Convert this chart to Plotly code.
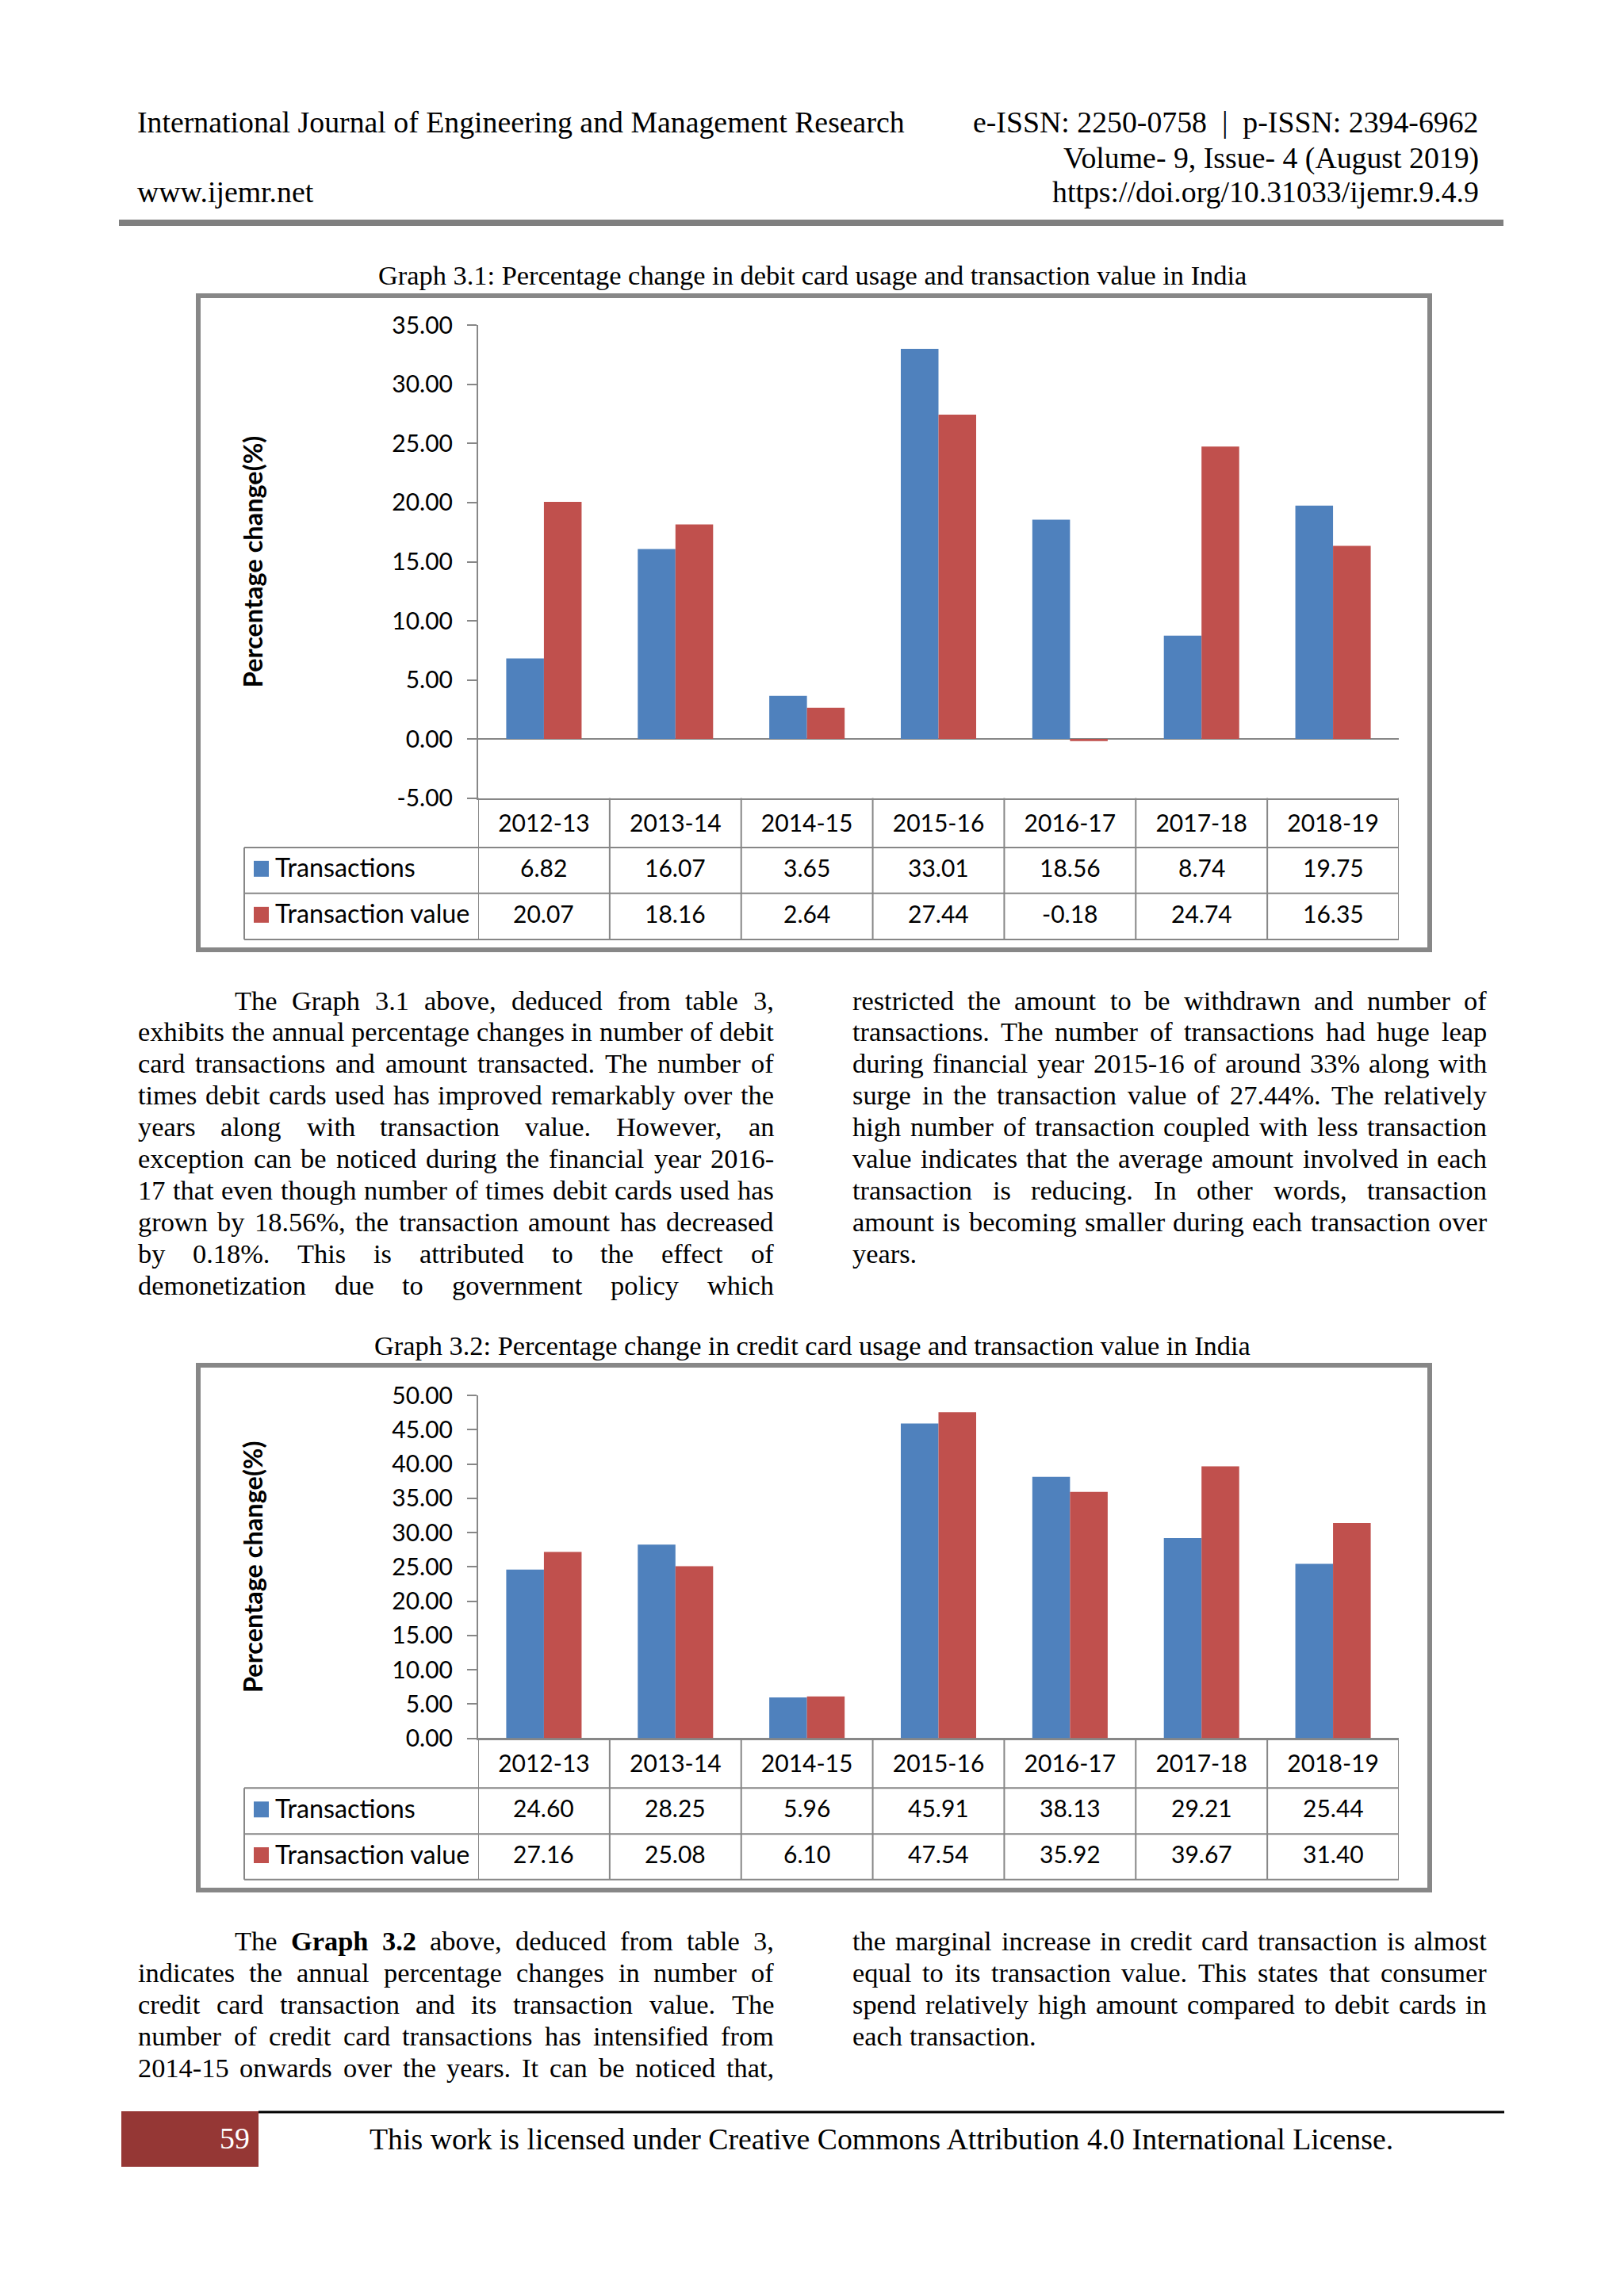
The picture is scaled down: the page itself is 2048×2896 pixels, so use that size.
import plotly.graph_objects as go

W, H = 2048, 2896
OFF = 8  # default page margin of the html body

# ---------------- data ----------------
categories = ["2012-13", "2013-14", "2014-15", "2015-16", "2016-17", "2017-18", "2018-19"]
debit_transactions = [6.82, 16.07, 3.65, 33.01, 18.56, 8.74, 19.75]
debit_value = [20.07, 18.16, 2.64, 27.44, -0.18, 24.74, 16.35]
credit_transactions = [24.60, 28.25, 5.96, 45.91, 38.13, 29.21, 25.44]
credit_value = [27.16, 25.08, 6.10, 47.54, 35.92, 39.67, 31.40]
series_names = ["Transactions", "Transaction value"]
y1_tick_values = [-5, 0, 5, 10, 15, 20, 25, 30, 35]
y2_tick_values = [0, 5, 10, 15, 20, 25, 30, 35, 40, 45, 50]
y_title = "Percentage change(%)"

header_left = ["International Journal of Engineering and Management Research", "www.ijemr.net"]
header_right = ["e-ISSN: 2250-0758 \u00a0|\u00a0 p-ISSN: 2394-6962", "Volume- 9, Issue- 4 (August 2019)",
                "https://doi.org/10.31033/ijemr.9.4.9"]
graph_titles = ["Graph 3.1: Percentage change in debit card usage and transaction value in India",
                "Graph 3.2: Percentage change in credit card usage and transaction value in India"]
para1_left = [
    "The Graph 3.1 above, deduced from table 3,",
    "exhibits the annual percentage changes in number of debit",
    "card transactions and amount transacted. The number of",
    "times debit cards used has improved remarkably over the",
    "years along with transaction value. However, an",
    "exception can be noticed during the financial year 2016-",
    "17 that even though number of times debit cards used has",
    "grown by 18.56%, the transaction amount has decreased",
    "by 0.18%. This is attributed to the effect of",
    "demonetization due to government policy which",
]
para1_right = [
    "restricted the amount to be withdrawn and number of",
    "transactions. The number of transactions had huge leap",
    "during financial year 2015-16 of around 33% along with",
    "surge in the transaction value of 27.44%. The relatively",
    "high number of transaction coupled with less transaction",
    "value indicates that the average amount involved in each",
    "transaction is reducing. In other words, transaction",
    "amount is becoming smaller during each transaction over",
    "years.",
]
para2_left = [
    "The §Graph §3.2 above, deduced from table 3,",
    "indicates the annual percentage changes in number of",
    "credit card transaction and its transaction value. The",
    "number of credit card transactions has intensified from",
    "2014-15 onwards over the years. It can be noticed that,",
]
para2_right = [
    "the marginal increase in credit card transaction is almost",
    "equal to its transaction value. This states that consumer",
    "spend relatively high amount compared to debit cards in",
    "each transaction.",
]
page_number = "59"
footer_text = "This work is licensed under Creative Commons Attribution 4.0 International License."

# ---------------- styles ----------------
BLUE, RED = "#4F81BD", "#C0504D"
series_colors = [BLUE, RED]
GRID = "#878787"
SANS = "Lato"
SERIF = "Liberation Serif"
FW, FH = W - 2 * OFF, H - 2 * OFF


def xp(px):
    return (px - OFF) / FW


def yp(py):
    return 1 - (py - OFF) / FH


# Times metrics (1/1000 em) for justification
_TR = {}
for chars, widths in [
    (" !\"#$%&'()*+,-./", [250, 333, 408, 500, 500, 833, 778, 180, 333, 333, 500, 564, 250, 333, 250, 278]),
    ("0123456789:;<=>?@", [500] * 10 + [278, 278, 564, 564, 564, 444, 921]),
    ("ABCDEFGHIJKLMNOPQRSTUVWXYZ", [722, 667, 667, 722, 611, 556, 722, 722, 333, 389, 722, 611, 889, 722, 722,
                                    556, 722, 667, 556, 611, 722, 722, 944, 722, 722, 611]),
    ("abcdefghijklmnopqrstuvwxyz", [444, 500, 444, 500, 444, 333, 500, 500, 278, 278, 500, 278, 778, 500, 500,
                                    500, 500, 333, 389, 278, 500, 500, 722, 500, 500, 444]),
]:
    _TR.update(dict(zip(chars, widths)))
_TB = dict(_TR)
_TB.update({"G": 778, "r": 444, "a": 500, "p": 556, "h": 556})


def tw(word, size, bold=False):
    t = _TB if bold else _TR
    return sum(t.get(c, 500) for c in word) * size / 1000.0


annotations = []
shapes = []


def body_line(line, x_left, x_right, y_mid, size, justify):
    words = []
    for w in line.split(" "):
        bold = w.startswith("§")
        words.append((w.lstrip("§"), bold))
    widths = [tw(w, size, b) for w, b in words]
    if justify and len(words) > 1:
        gap = (x_right - x_left - sum(widths)) / (len(words) - 1)
    else:
        gap = 250 * size / 1000.0
    x = x_left
    for (w, b), wd in zip(words, widths):
        annotations.append(dict(
            x=xp(x), y=yp(y_mid), xref="paper", yref="paper", xanchor="left", yanchor="middle",
            text=f"<b>{w}</b>" if b else w, showarrow=False, borderpad=0,
            font=dict(family=SERIF, size=size, color="black")))
        x += wd + gap


def paragraph(lines, x_left, x_right, y0, dy, size, indent=0, last_ragged=False):
    for i, ln in enumerate(lines):
        left = x_left + (indent if i == 0 else 0)
        justify = not (last_ragged and i == len(lines) - 1)
        body_line(ln, left, x_right, y0 + dy * i, size, justify)


def text(t, x, y, size, anchor="left", color="black", family=SERIF):
    annotations.append(dict(x=xp(x), y=yp(y), xref="paper", yref="paper", xanchor=anchor,
                            yanchor="middle", text=t, showarrow=False, borderpad=0,
                            font=dict(family=family, size=size, color=color)))


# ---------------- header ----------------
HSZ = 37.8
text(header_left[0], 172, 154, HSZ)
text(header_left[1], 172, 242, HSZ)
for t, y in zip(header_right, [154, 199, 242]):
    text(t, 1866, y, HSZ, anchor="right")
shapes.append(dict(type="rect", xref="paper", yref="paper", x0=xp(150), x1=xp(1896), y0=yp(277), y1=yp(285),
                   fillcolor="#7F7F7F", line=dict(width=0)))

# ---------------- charts ----------------
PLOT_L, PLOT_R, TABLE_L = 603, 1764, 308
charts = [
    dict(xa="x", ya="y", vals=(debit_transactions, debit_value), ticks=y1_tick_values, yr=[-5, 35],
         top=410.4, bottom=1006.6, rows=[1069.0, 1126.7, 1185.0], frame=(250, 373, 1803, 1198), title_y=347),
    dict(xa="x2", ya="y2", vals=(credit_transactions, credit_value), ticks=y2_tick_values, yr=[0, 50],
         top=1760.0, bottom=2192.6, rows=[2255.3, 2313.3, 2370.7], frame=(250, 1722, 1803, 2384), title_y=1697),
]

fig = go.Figure()
layout_axes = {}
for ci, c in enumerate(charts):
    for k in range(2):
        fig.add_trace(go.Bar(x=categories, y=c["vals"][k], name=series_names[k], xaxis=c["xa"], yaxis=c["ya"],
                             marker=dict(color=series_colors[k], line=dict(width=0)), offsetgroup=str(k),
                             showlegend=False, hoverinfo="skip"))
    sfx = "" if ci == 0 else str(ci + 1)
    layout_axes["xaxis" + sfx] = dict(
        domain=[xp(PLOT_L), xp(PLOT_R)], anchor=c["ya"], type="category", range=[-0.5, 6.5],
        showline=True, linecolor=GRID, linewidth=2, ticks="", showgrid=False, zeroline=False,
        tickfont=dict(family=SANS, size=30, color="black"), ticklabelstandoff=4, automargin=False,
        fixedrange=True)
    layout_axes["yaxis" + sfx] = dict(
        domain=[yp(c["bottom"]), yp(c["top"])], anchor=c["xa"], range=c["yr"],
        tickvals=c["ticks"], ticktext=[f"{v:.2f}" for v in c["ticks"]],
        ticks="outside", ticklen=12, tickwidth=2, tickcolor=GRID, showline=True, linecolor=GRID, linewidth=2,
        showgrid=False, zeroline=True, zerolinecolor=GRID, zerolinewidth=2,
        tickfont=dict(family=SANS, size=30, color="black"), ticklabelstandoff=12, automargin=False,
        fixedrange=True,
        title=dict(text=y_title, font=dict(family=SANS, size=32.5, color="black", weight="bold"), standoff=153))

    # title
    text(graph_titles[ci], 1024, c["title_y"], 34.4, anchor="center")
    # frame
    fx0, fy0, fx1, fy1 = c["frame"]
    shapes.append(dict(type="rect", xref="paper", yref="paper", x0=xp(fx0), x1=xp(fx1), y0=yp(fy0), y1=yp(fy1),
                       line=dict(color=GRID, width=6), fillcolor="rgba(0,0,0,0)"))
    # data table grid
    hb, r1, r2 = c["rows"]
    for yy in (hb, r1, r2):
        shapes.append(dict(type="line", xref="paper", yref="paper", x0=xp(TABLE_L), x1=xp(PLOT_R),
                           y0=yp(yy), y1=yp(yy), line=dict(color=GRID, width=2)))
    shapes.append(dict(type="line", xref="paper", yref="paper", x0=xp(TABLE_L), x1=xp(TABLE_L),
                       y0=yp(hb), y1=yp(r2), line=dict(color=GRID, width=2)))
    for i in range(len(categories) + 1):
        shapes.append(dict(type="line", xref=c["xa"], yref="paper", x0=i - 0.5, x1=i - 0.5,
                           y0=yp(c["bottom"]), y1=yp(r2), line=dict(color=GRID, width=2)))
    row_centers = [(hb + r1) / 2, (r1 + r2) / 2]
    for k in range(2):
        rc = row_centers[k]
        shapes.append(dict(type="rect", xref="paper", yref="paper", x0=xp(320), x1=xp(339),
                           y0=yp(rc - 12), y1=yp(rc + 8), fillcolor=series_colors[k], line=dict(width=0)))
        text(series_names[k], 346, rc - 4, 32.3, family=SANS)
        for i, v in enumerate(c["vals"][k]):
            annotations.append(dict(x=categories[i], y=yp(rc - 4), xref=c["xa"], yref="paper", xanchor="center",
                                    yanchor="middle", text=f"{v:.2f}", showarrow=False, borderpad=0,
                                    font=dict(family=SANS, size=30, color="black")))

# ---------------- body text ----------------
BSZ = 34.4
paragraph(para1_left, 173, 975, 1261.6, 39.9, BSZ, indent=122)
paragraph(para1_right, 1074, 1874, 1261.6, 39.9, BSZ, last_ragged=True)
paragraph(para2_left, 173, 975, 2448.0, 40.0, BSZ, indent=122)
paragraph(para2_right, 1074, 1874, 2448.0, 40.0, BSZ, last_ragged=True)

# ---------------- footer ----------------
shapes.append(dict(type="rect", xref="paper", yref="paper", x0=xp(153), x1=xp(326), y0=yp(2663), y1=yp(2733),
                   fillcolor="#953735", line=dict(width=0)))
shapes.append(dict(type="line", xref="paper", yref="paper", x0=xp(326), x1=xp(1897), y0=yp(2664), y1=yp(2664),
                   line=dict(color="black", width=3)))
text(page_number, 296, 2697, HSZ, anchor="center", color="white")
text(footer_text, 1111, 2698, HSZ, anchor="center")

fig.update_layout(
    width=FW, height=FH, margin=dict(l=0, r=0, t=0, b=0),
    paper_bgcolor="white", plot_bgcolor="rgba(0,0,0,0)",
    barmode="group", bargap=0.427, bargroupgap=0,
    showlegend=False, annotations=annotations, shapes=shapes,
    **layout_axes)

fig.write_html("out.html")
